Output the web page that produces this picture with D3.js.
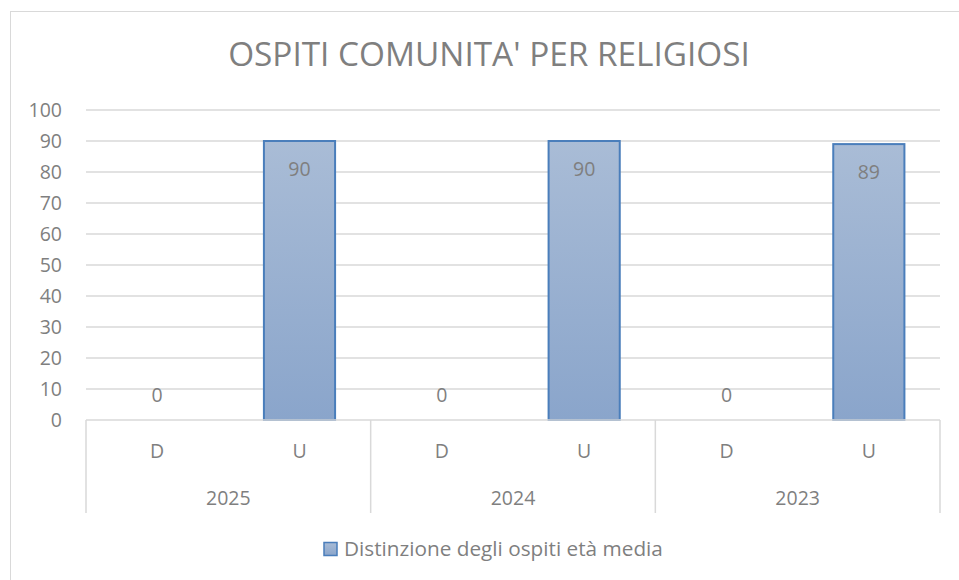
<!DOCTYPE html>
<html>
<head>
<meta charset="utf-8">
<script src="https://cdnjs.cloudflare.com/ajax/libs/d3/7.8.5/d3.min.js"></script>
<style>
  body { margin: 0; background: #fff; }
  text { font-family: "Open Sans", "Noto Sans", sans-serif; fill: #7f7f7f; }
</style>
</head>
<body>
<script>
// data
var years = ["2025", "2024", "2023"];
var categories = ["D", "U"];
var valuesD = [0, 0, 0];
var valuesU = [90, 90, 89];
var yTicks = [0, 10, 20, 30, 40, 50, 60, 70, 80, 90, 100];
var title = "OSPITI COMUNITA' PER RELIGIOSI";
var seriesName = "Distinzione degli ospiti età media";

var width = 959, height = 580;
var margin = { left: 86, right: 19, top: 110, bottom: 160 };
var labelSize = 19.5;

var svg = d3.select("body").append("svg")
    .attr("width", width)
    .attr("height", height);

// gradient for bars
var grad = svg.append("defs").append("linearGradient")
    .attr("id", "barGrad")
    .attr("x1", 0).attr("y1", 0).attr("x2", 0).attr("y2", 1);
grad.append("stop").attr("offset", "0%").attr("stop-color", "#a9bcd6");
grad.append("stop").attr("offset", "100%").attr("stop-color", "#8aa5cb");

// outer chart border
svg.append("rect")
    .attr("x", 10.5).attr("y", 11.5)
    .attr("width", 960).attr("height", 600)
    .attr("fill", "none")
    .attr("stroke", "#d9d9d9")
    .attr("stroke-width", 1);

// shrink or grow a text to a given width
function fitText(sel, w) {
    var size = parseFloat(sel.attr("font-size"));
    var len = sel.node().getComputedTextLength();
    sel.attr("font-size", size * w / len);
}

var plotW = width - margin.left - margin.right;
var plotBottom = 420;

var y = d3.scaleLinear()
    .domain([0, 100])
    .range([plotBottom, margin.top]);

var x0 = d3.scaleBand()
    .domain(years)
    .range([margin.left, margin.left + plotW]);

var x1 = d3.scaleBand()
    .domain(categories)
    .range([0, x0.bandwidth()])
    .paddingInner(0.5)
    .paddingOuter(0.25);

// title
var t = svg.append("text")
    .attr("x", 489).attr("y", 66)
    .attr("text-anchor", "middle")
    .attr("font-size", 30)
    .text(title);
fitText(t, 522);

// gridlines
svg.append("g")
    .selectAll("line")
    .data(yTicks.filter(function(d) { return d > 0; }))
    .enter().append("line")
    .attr("x1", margin.left)
    .attr("x2", margin.left + plotW)
    .attr("y1", function(d) { return y(d); })
    .attr("y2", function(d) { return y(d); })
    .attr("stroke", "#d9d9d9")
    .attr("stroke-width", 1.5);

// y axis labels
var yAxis = d3.axisLeft(y).tickValues(yTicks).tickSize(0).tickPadding(24);
var gy = svg.append("g")
    .attr("transform", "translate(" + margin.left + ",0)")
    .call(yAxis);
gy.select(".domain").remove();
gy.selectAll("text")
    .attr("font-size", labelSize)
    .attr("fill", "#7f7f7f")
    .style("font-family", "'Open Sans', sans-serif");

// rows of data
var rows = years.map(function(yr, i) {
    return { year: yr, values: [
        { cat: "D", value: valuesD[i] },
        { cat: "U", value: valuesU[i] }
    ] };
});

var groups = svg.append("g").selectAll("g")
    .data(rows)
    .enter().append("g")
    .attr("transform", function(d) { return "translate(" + x0(d.year) + ",0)"; });

groups.selectAll("rect")
    .data(function(d) { return d.values.filter(function(v) { return v.value > 0; }); })
    .enter().append("rect")
    .attr("x", function(d) { return x1(d.cat); })
    .attr("width", x1.bandwidth())
    .attr("y", function(d) { return y(d.value); })
    .attr("height", function(d) { return plotBottom - y(d.value); })
    .attr("fill", "url(#barGrad)")
    .attr("stroke", "#4a7ebb")
    .attr("stroke-width", 2);

// value labels
groups.selectAll("text.val")
    .data(function(d) { return d.values; })
    .enter().append("text")
    .attr("class", "val")
    .attr("x", function(d) { return x1(d.cat) + x1.bandwidth() / 2; })
    .attr("y", function(d) { return d.value > 0 ? y(d.value) + 35 : y(d.value) - 18; })
    .attr("text-anchor", "middle")
    .attr("font-size", labelSize)
    .text(function(d) { return d.value; });

// baseline
svg.append("line")
    .attr("x1", margin.left).attr("x2", margin.left + plotW)
    .attr("y1", plotBottom).attr("y2", plotBottom)
    .attr("stroke", "#d9d9d9")
    .attr("stroke-width", 1.5);

// group separators
svg.append("g").selectAll("line")
    .data(years.map(function(d) { return x0(d); }).concat([margin.left + plotW]))
    .enter().append("line")
    .attr("x1", function(d) { return d; })
    .attr("x2", function(d) { return d; })
    .attr("y1", plotBottom)
    .attr("y2", 513)
    .attr("stroke", "#d9d9d9")
    .attr("stroke-width", 1.5);

// category labels
groups.selectAll("text.cat")
    .data(function(d) { return d.values; })
    .enter().append("text")
    .attr("class", "cat")
    .attr("x", function(d) { return x1(d.cat) + x1.bandwidth() / 2; })
    .attr("y", 458)
    .attr("text-anchor", "middle")
    .attr("font-size", labelSize)
    .text(function(d) { return d.cat; });

// year labels
groups.append("text")
    .attr("x", x0.bandwidth() / 2)
    .attr("y", 505)
    .attr("text-anchor", "middle")
    .attr("font-size", labelSize)
    .text(function(d) { return d.year; });

// legend
svg.append("rect")
    .attr("x", 324).attr("y", 542.5)
    .attr("width", 13).attr("height", 13)
    .attr("fill", "url(#barGrad)")
    .attr("stroke", "#4a7ebb")
    .attr("stroke-width", 1.5);

var lt = svg.append("text")
    .attr("x", 344).attr("y", 556)
    .attr("font-size", 17)
    .text(seriesName);
fitText(lt, 319);
</script>
</body>
</html>
